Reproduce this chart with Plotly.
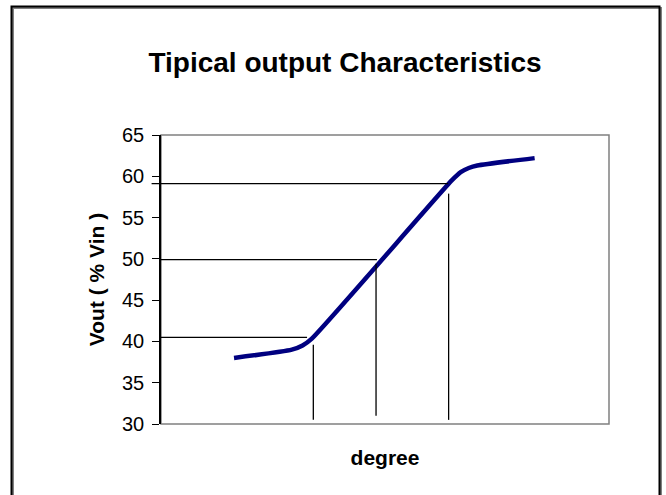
import plotly.graph_objects as go

# --- data ---
degree = [16.3, 29.2, 31.6, 33.6, 64.9, 66.9, 68.7, 70.6, 83.4]
vout = [38.0, 39.0, 39.5, 40.3, 59.5, 60.5, 61.0, 61.3, 62.2]

# reference (dimension) lines
ref_h_y = [40.5, 49.9, 59.1]
ref_h_x_start = [0.0, 0.0, -2.1]
ref_h_x_end = [32.6, 48.2, 64.1]
ref_v_x = [34.0, 48.0, 64.2]
ref_v_y_start = [30.5, 31.0, 30.5]
ref_v_y_end = [39.6, 49.4, 57.9]

y_ticks = [30, 35, 40, 45, 50, 55, 60, 65]
X_RANGE = [0, 100]
Y_RANGE = [30, 65]

W, H = 666, 495
L, R, T, B = 161, 57, 135, 71
pw = W - L - R
ph = H - T - B


def px_to_paper_x(px):
    return (px - L) / pw


def px_to_paper_y(py):
    return (H - B - py) / ph


fig = go.Figure()
fig.add_trace(go.Scatter(
    x=degree, y=vout, mode="lines",
    line=dict(color="#000080", width=4.5, shape="spline", smoothing=0.6),
    hoverinfo="skip", showlegend=False,
))

shapes = []
# plot-area border (grey)
shapes.append(dict(type="rect", xref="paper", yref="paper", x0=0, y0=0, x1=1, y1=1,
                   line=dict(color="#808080", width=1.5), layer="below"))
# outer chart border with shadow
shapes.append(dict(type="rect", xref="paper", yref="paper",
                   x0=px_to_paper_x(13), y0=px_to_paper_y(520), x1=px_to_paper_x(661), y1=px_to_paper_y(8),
                   line=dict(color="#808080", width=2)))
shapes.append(dict(type="rect", xref="paper", yref="paper",
                   x0=px_to_paper_x(11.5), y0=px_to_paper_y(520), x1=px_to_paper_x(659.5), y1=px_to_paper_y(6.5),
                   line=dict(color="black", width=2)))

for y, xs, xe in zip(ref_h_y, ref_h_x_start, ref_h_x_end):
    shapes.append(dict(type="line", xref="paper", yref="y",
                       x0=(xs - X_RANGE[0]) / (X_RANGE[1] - X_RANGE[0]),
                       x1=(xe - X_RANGE[0]) / (X_RANGE[1] - X_RANGE[0]),
                       y0=y, y1=y, line=dict(color="black", width=1.3)))
for x, ys, ye in zip(ref_v_x, ref_v_y_start, ref_v_y_end):
    shapes.append(dict(type="line", xref="x", yref="y", x0=x, x1=x, y0=ys, y1=ye,
                       line=dict(color="black", width=1.3)))

fig.update_layout(
    width=W, height=H,
    margin=dict(l=L, r=R, t=T, b=B),
    paper_bgcolor="white", plot_bgcolor="white",
    font=dict(family="Liberation Sans, Arial, sans-serif", color="black"),
    title=dict(text="<b>Tipical output Characteristics</b>", x=px_to_paper_x(345), xref="paper",
               xanchor="center", y=1 - 62 / H, yref="container", yanchor="middle",
               font=dict(size=28, color="black")),
    xaxis=dict(range=X_RANGE, showticklabels=False, ticks="", showgrid=False, zeroline=False,
               showline=False,
               title=dict(text="<b>degree</b>", font=dict(size=21), standoff=26)),
    yaxis=dict(range=Y_RANGE, tickvals=y_ticks, ticks="outside", ticklen=7, tickcolor="black",
               tickwidth=1.3, showgrid=False, zeroline=False, showline=True, linecolor="black",
               linewidth=1.5, tickfont=dict(size=20), ticklabelstandoff=4,
               title=dict(text="<b>Vout ( % Vin )</b>", font=dict(size=21), standoff=12)),
    shapes=shapes,
)

fig.write_html("out.html", config={"displayModeBar": False},
               post_script="document.body.style.margin='0';document.body.style.overflow='hidden';")
